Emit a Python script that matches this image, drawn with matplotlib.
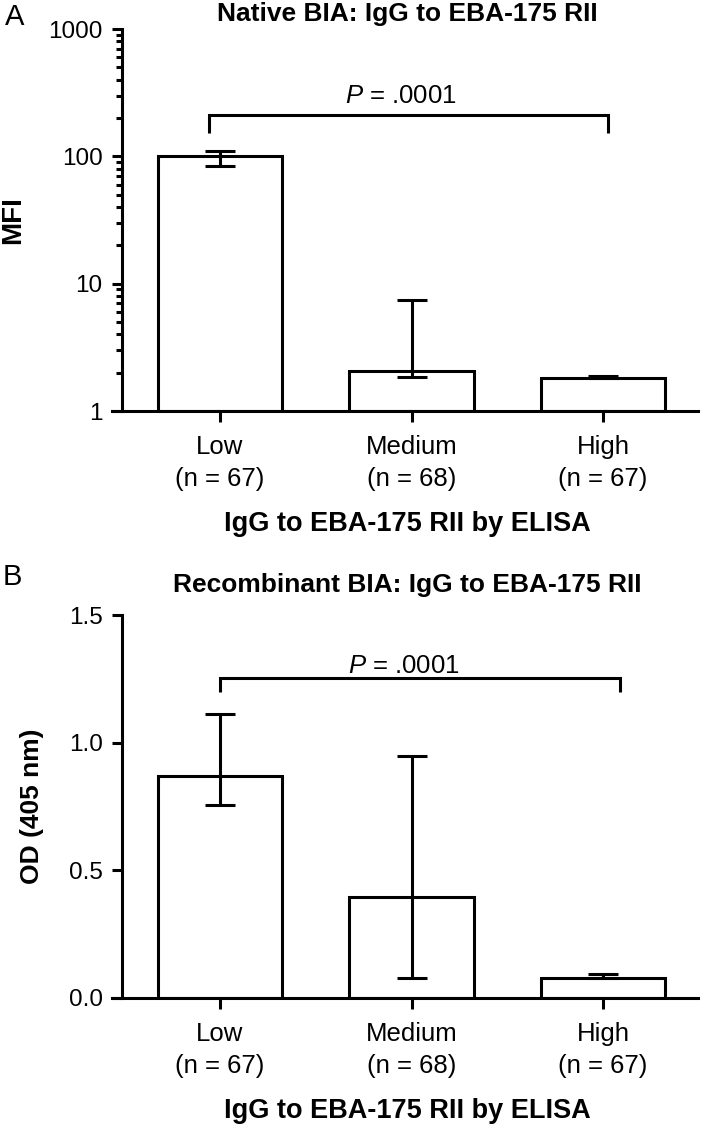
import matplotlib
matplotlib.use('Agg')
import matplotlib.pyplot as plt
import matplotlib.transforms as mtransforms
from matplotlib.ticker import FixedLocator, NullFormatter

plt.rcParams['font.family'] = ['Liberation Sans', 'DejaVu Sans']
plt.rcParams['mathtext.fontset'] = 'custom'
plt.rcParams['mathtext.it'] = 'Liberation Sans:italic'
plt.rcParams['mathtext.rm'] = 'Liberation Sans'

# data (bar = median, whiskers = range shown)
groups = ['Low', 'Medium', 'High']
group_n = [67, 68, 67]

native_mfi = [100, 2.07, 1.83]
native_upper = [111, 7.45, 1.89]
native_lower = [84.5, 1.84, 1.82]

recomb_od = [0.868, 0.397, 0.080]
recomb_upper = [1.113, 0.946, 0.093]
recomb_lower = [0.754, 0.080, 0.078]

p_label = '$P$ = .0001'
xlabel_text = 'IgG to EBA-175 RII by ELISA'

LW = 2.2
W, H = 702, 1127
fig = plt.figure(figsize=(W / 100, H / 100), dpi=100)

ax1 = fig.add_axes([112 / W, 1 - 411 / H, 586 / W, 382 / H])
ax2 = fig.add_axes([112 / W, 1 - 998 / H, 586 / W, 383 / H])

x = list(range(len(groups)))
ticklabels = [f'{g}\n(n = {n})' for g, n in zip(groups, group_n)]


def style_axes(ax):
    ax.set_xlim(-0.564, 2.496)
    for s in ['top', 'right']:
        ax.spines[s].set_visible(False)
    for s in ['left', 'bottom']:
        ax.spines[s].set_linewidth(LW)
        ax.spines[s].set_capstyle('projecting')
    ax.spines['left'].set_position(('data', -0.512))
    ax.set_xticks(x)
    ax.set_xticklabels(ticklabels, fontsize=18.5, linespacing=1.45)
    ax.tick_params(axis='x', length=8, width=LW, pad=9)
    ax.tick_params(axis='y', which='major', length=7, width=LW, pad=7, labelsize=17.5)
    ax.tick_params(axis='y', which='minor', length=4.5, width=LW)


def draw_bars(ax, vals, lo, hi, base):
    heights = [v - base for v in vals]
    ax.bar(x, heights, bottom=base, width=0.648, facecolor='white',
           edgecolor='black', linewidth=LW, zorder=2)
    yerr = [[v - l for v, l in zip(vals, lo)], [h - v for v, h in zip(vals, hi)]]
    ax.errorbar(x, vals, yerr=yerr, fmt='none', ecolor='black', elinewidth=LW,
                capsize=10.8, capthick=LW, zorder=3)


def bracket(ax, x0, x1, ytop, yleg, tx, pad_pt):
    ax.plot([x0, x0, x1, x1], [yleg, ytop, ytop, yleg], color='black', lw=LW,
            solid_joinstyle='miter', solid_capstyle='butt', clip_on=False, zorder=3)
    ax.annotate(p_label, xy=(tx, ytop), xytext=(0, pad_pt), textcoords='offset points',
                ha='center', va='baseline', fontsize=18.5)


# ---- panel A ----
ax1.set_yscale('log')
ax1.set_ylim(1, 1000)
draw_bars(ax1, native_mfi, native_lower, native_upper, base=1)
ax1.set_yticks([1, 10, 100, 1000])
ax1.set_yticklabels(['1', '10', '100', '1000'])
ax1.yaxis.set_minor_locator(FixedLocator([k * 10 ** d for d in range(3) for k in range(2, 10)]))
ax1.yaxis.set_minor_formatter(NullFormatter())
style_axes(ax1)
bracket(ax1, -0.057, 2.026, 211, 153, 0.945, 8.5)
ax1.set_ylabel('MFI', fontsize=20, fontweight='bold', ha='center', va='center')
ax1.yaxis.set_label_coords((13 - 112) / 586, 0.5)

# ---- panel B ----
ax2.set_ylim(0, 1.5)
draw_bars(ax2, recomb_od, recomb_lower, recomb_upper, base=0)
ax2.set_yticks([0, 0.5, 1.0, 1.5])
ax2.set_yticklabels(['0.0', '0.5', '1.0', '1.5'])
style_axes(ax2)
bracket(ax2, 0.0, 2.09, 1.254, 1.197, 0.96, 3.5)
ax2.set_ylabel('OD (405 nm)', fontsize=19, fontweight='bold', ha='center', va='center')
ax2.yaxis.set_label_coords((32 - 112) / 586, 0.5)

# titles, x labels, panel letters
for ax, title, ty, xy in [(ax1, 'Native BIA: IgG to EBA-175 RII', 21, 531),
                          (ax2, 'Recombinant BIA: IgG to EBA-175 RII', 592, 1118)]:
    tr = mtransforms.blended_transform_factory(ax.transData, fig.transFigure)
    ax.text(0.98, 1 - ty / H, title, transform=tr, ha='center', va='baseline',
            fontsize=19, fontweight='bold')
    ax.text(0.98, 1 - xy / H, xlabel_text, transform=tr, ha='center', va='baseline',
            fontsize=19.5, fontweight='bold')

fig.text(5 / W, 1 - 25 / H, 'A', fontsize=21, ha='left', va='baseline')
fig.text(3 / W, 1 - 585 / H, 'B', fontsize=21, ha='left', va='baseline')

fig.savefig('out.png', dpi=100)
